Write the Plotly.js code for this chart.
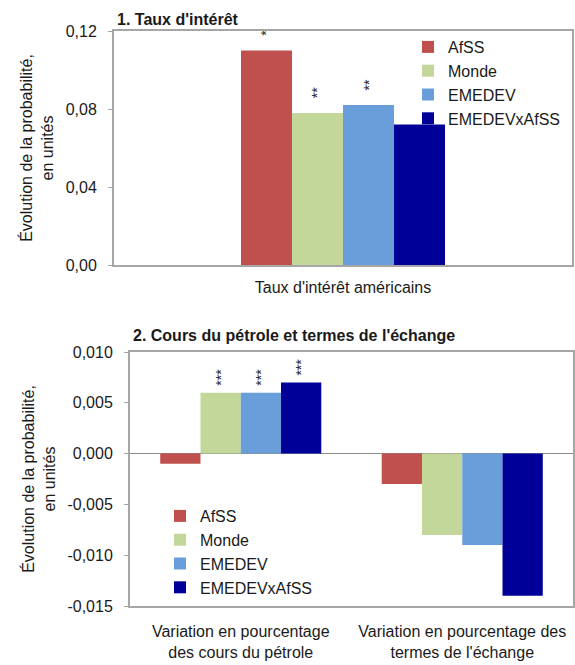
<!DOCTYPE html>
<html>
<head>
<meta charset="utf-8">
<script src="https://cdn.plot.ly/plotly-3.0.1.min.js"></script>
<style>html,body{margin:0;padding:0;background:#fff;}#chart{width:575px;height:665px;}</style>
</head>
<body>
<div id="chart"></div>
<script>
// ---- data ----
const seriesNames = ["AfSS", "Monde", "EMEDEV", "EMEDEVxAfSS"];
const seriesColors = ["#C0504D", "#C4D79B", "#6A9EDA", "#000099"];

// Panel 1
const cats1 = ["Taux d'intérêt américains"];
const afss1 = [0.110];
const monde1 = [0.078];
const emedev1 = [0.082];
const emedevx1 = [0.072];
const stars1 = [["*"], ["**"], ["**"], [""]];

// Panel 2
const cats2 = ["Variation en pourcentage<br>des cours du pétrole", "Variation en pourcentage des<br>termes de l'échange"];
const afss2 = [-0.001, -0.003];
const monde2 = [0.006, -0.008];
const emedev2 = [0.006, -0.009];
const emedevx2 = [0.007, -0.014];
const stars2 = [["", ""], ["***", ""], ["***", ""], ["***", ""]];

const yTicks1 = [0, 0.04, 0.08, 0.12];
const yTickText1 = ["0,00", "0,04", "0,08", "0,12"];
const yTicks2 = [-0.015, -0.010, -0.005, 0, 0.005, 0.010];
const yTickText2 = ["-0,015", "-0,010", "-0,005", "0,000", "0,005", "0,010"];

const yTitle = "Évolution de la probabilité,<br>en unités";

// ---- layout helpers ----
const W = 575, H = 665;
const FONT = "Liberation Sans, Arial, sans-serif";
const TXT = "#1a1a1a";
const BOX = "#a6a6a6";
const px = v => v / W;
const py = v => (H - v) / H;

const vals1 = [afss1, monde1, emedev1, emedevx1];
const vals2 = [afss2, monde2, emedev2, emedevx2];

const pad1 = s => s ? "\u00a0\u00a0\u00a0" + s : "";
const pad2 = s => s ? "\u00a0" + s : "";

const traces = [];
seriesNames.forEach((n, i) => {
  traces.push({
    type: "bar", name: n, x: cats1, y: vals1[i], xaxis: "x", yaxis: "y",
    marker: {color: seriesColors[i], line: {width: 0}},
    text: stars1[i].map(pad1), textposition: "outside", textangle: -90,
    textfont: {family: FONT, size: 14, color: "#222"}, constraintext: "none",
    cliponaxis: false, legend: "legend", hoverinfo: "name+y"
  });
});
seriesNames.forEach((n, i) => {
  traces.push({
    type: "bar", name: n, x: cats2, y: vals2[i], xaxis: "x2", yaxis: "y2",
    marker: {color: seriesColors[i], line: {width: 0}},
    text: stars2[i].map(pad2), textposition: "outside", textangle: -90,
    textfont: {family: FONT, size: 14, color: "#222"}, constraintext: "none",
    cliponaxis: false, legend: "legend2", hoverinfo: "name+y"
  });
});

const y2d = [py(606), py(352)];
const y2min = -0.015, y2max = 0.010;
const zeroPos = y2d[0] + (0 - y2min) / (y2max - y2min) * (y2d[1] - y2d[0]);

const axCommon = {showline: true, mirror: true, linecolor: BOX, linewidth: 2, showgrid: false, zeroline: false,
  tickfont: {family: FONT, size: 16, color: TXT}, automargin: false};

const layout = {
  width: W, height: H,
  margin: {l: 0, r: 0, t: 0, b: 0},
  paper_bgcolor: "#fff", plot_bgcolor: "#fff",
  font: {family: FONT, size: 16, color: TXT},
  barmode: "group",
  bargap: 0.273,
  showlegend: true,
  xaxis: Object.assign({}, axCommon, {domain: [px(114), px(572)], anchor: "y", type: "category",
    range: [-0.816, 0.816], ticks: "", ticklabelstandoff: 7}),
  yaxis: Object.assign({}, axCommon, {domain: [py(265), py(31)], anchor: "x", range: [0, 0.12],
    tickvals: yTicks1, ticktext: yTickText1, ticks: "outside", ticklen: 4, tickcolor: BOX, ticklabelstandoff: 8,
    title: {text: yTitle, font: {family: FONT, size: 16, color: TXT}, standoff: 8}}),
  xaxis2: Object.assign({}, axCommon, {domain: [px(130), px(573)], anchor: "y2", type: "category",
    range: [-0.5, 1.5], ticks: "", ticklabelstandoff: 10}),
  yaxis2: Object.assign({}, axCommon, {domain: y2d, anchor: "x2", range: [y2min, y2max],
    tickvals: yTicks2, ticktext: yTickText2, ticks: "outside", ticklen: 4, tickcolor: BOX, ticklabelstandoff: 8,
    zeroline: true, zerolinecolor: "#8c8c8c", zerolinewidth: 1.5,
    title: {text: yTitle, font: {family: FONT, size: 16, color: TXT}, standoff: 8}}),
  xaxis3: {overlaying: "x2", anchor: "free", position: zeroPos, range: [-0.5, 1.5],
    tickvals: [0.5], ticks: "outside", ticklen: 5, tickcolor: "#8c8c8c", tickwidth: 1.5,
    showticklabels: false, showline: false, showgrid: false, zeroline: false},
  legend: {x: px(408), xanchor: "left", y: py(30), yanchor: "top", bgcolor: "rgba(0,0,0,0)",
    font: {family: FONT, size: 16, color: TXT}, itemclick: false, tracegroupgap: 0},
  legend2: {x: px(160), xanchor: "left", y: py(499), yanchor: "top", bgcolor: "rgba(0,0,0,0)",
    font: {family: FONT, size: 16, color: TXT}, itemclick: false, tracegroupgap: 0},
  annotations: [
    {text: "<b>1. Taux d'intérêt</b>", xref: "paper", yref: "paper", x: px(115), y: py(19),
      xanchor: "left", yanchor: "middle", showarrow: false, font: {family: FONT, size: 16, color: TXT}},
    {text: "<b>2. Cours du pétrole et termes de l'échange</b>", xref: "paper", yref: "paper", x: px(131), y: py(335),
      xanchor: "left", yanchor: "middle", showarrow: false, font: {family: FONT, size: 16, color: TXT}}
  ]
};

Plotly.newPlot("chart", traces, layout, {displayModeBar: false, staticPlot: true});
</script>
</body>
</html>
